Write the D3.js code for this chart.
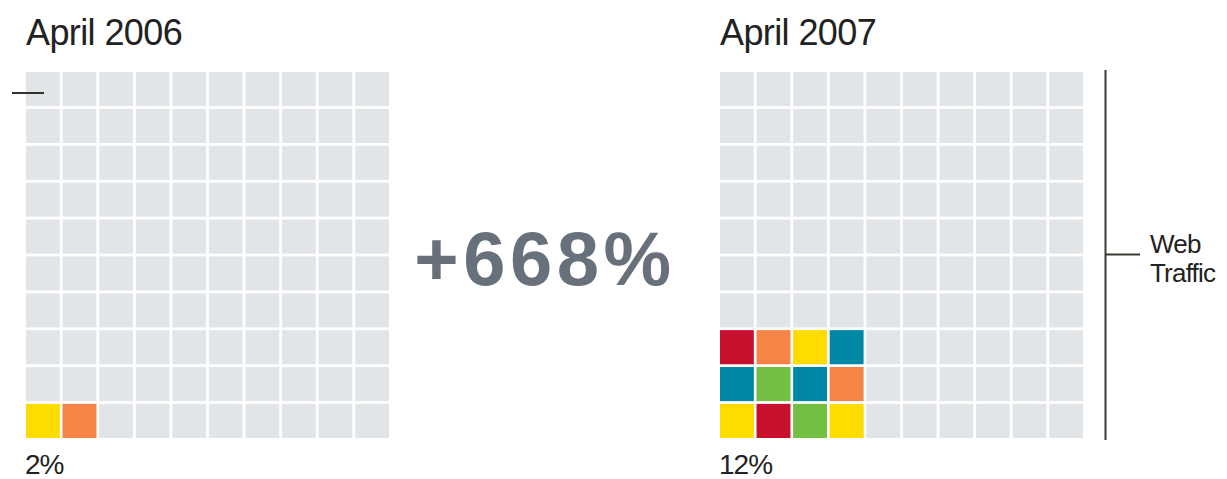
<!DOCTYPE html>
<html>
<head>
<meta charset="utf-8">
<script src="https://cdn.jsdelivr.net/npm/d3@7"></script>
<style>
  body { margin: 0; background: #fff; }
  text { font-family: "Liberation Sans", Arial, sans-serif; }
</style>
</head>
<body>
<div id="viz"></div>
<script>
// data
var years = ['April 2006', 'April 2007'];
var shares = [2, 12];            // percent of web traffic
var shareLabels = ['2%', '12%'];
var blockCols = [2, 4];          // width of the coloured block in each grid
var cellColors2006 = ['yellow', 'orange'];
var cellColors2007 = ['yellow', 'red', 'green', 'yellow',
                      'teal', 'green', 'teal', 'orange',
                      'red', 'orange', 'yellow', 'teal'];
var change = '+668%';
var bracketLabel = ['Web', 'Traffic'];

var width = 1227,
    height = 479,
    gridSize = 10;

var palette = {
    yellow: '#ffdc00',
    orange: '#f68446',
    red: '#c8102e',
    teal: '#0089a7',
    green: '#72bf44'
};

var svg = d3.select('#viz').append('svg')
    .attr('width', width)
    .attr('height', height);

var gridLeft = [26, 720],
    gridTop = 72,
    gridSpan = 363;

var idx = d3.range(gridSize);

function drawGrid(g, k, colors) {
    var x = d3.scaleBand().domain(idx).range([gridLeft[k], gridLeft[k] + gridSpan]).paddingInner(0.075);
    // rows counted from the bottom
    var y = d3.scaleBand().domain(idx).range([gridTop + gridSpan + 3, gridTop]).paddingInner(0.075);

    var cells = [];
    idx.forEach(function(r) {
        idx.forEach(function(c) { cells.push({ c: c, r: r }); });
    });

    g.selectAll('rect.bg').data(cells)
        .enter().append('rect')
        .attr('class', 'bg')
        .attr('x', function(d) { return x(d.c); })
        .attr('y', function(d) { return y(d.r); })
        .attr('width', x.bandwidth())
        .attr('height', y.bandwidth())
        .attr('fill', '#e2e5e8');

    var bc = blockCols[k];
    var filled = d3.range(shares[k]).map(function(i) {
        return { c: i % bc, r: Math.floor(i / bc), color: colors[i] };
    });

    g.selectAll('rect.on').data(filled)
        .enter().append('rect')
        .attr('class', 'on')
        .attr('x', function(d) { return x(d.c); })
        .attr('y', function(d) { return y(d.r); })
        .attr('width', x.bandwidth())
        .attr('height', y.bandwidth())
        .attr('fill', function(d) { return palette[d.color]; });

    g.append('text')
        .attr('x', gridLeft[k])
        .attr('y', 45)
        .attr('font-size', 36)
        .attr('letter-spacing', -0.6)
        .attr('fill', '#222')
        .text(years[k]);

    g.append('text')
        .attr('x', gridLeft[k] - 1)
        .attr('y', 474)
        .attr('font-size', 28)
        .attr('letter-spacing', -1)
        .attr('fill', '#222')
        .text(shareLabels[k]);
}

drawGrid(svg.append('g'), 0, cellColors2006);
drawGrid(svg.append('g'), 1, cellColors2007);

// small tick at top left
svg.append('line')
    .attr('x1', 12).attr('x2', 44)
    .attr('y1', 93).attr('y2', 93)
    .attr('stroke', '#33332b')
    .attr('stroke-width', 2);

// change label
svg.append('text')
    .attr('x', 545)
    .attr('y', 285)
    .attr('text-anchor', 'middle')
    .attr('font-size', 76)
    .attr('font-weight', 'bold')
    .attr('letter-spacing', 4.5)
    .attr('fill', '#68717b')
    .text(change);

// bracket
svg.append('line')
    .attr('x1', 1105.5).attr('x2', 1105.5)
    .attr('y1', 70).attr('y2', 440)
    .attr('stroke', '#3b3b32')
    .attr('stroke-width', 2);

svg.append('line')
    .attr('x1', 1106).attr('x2', 1140)
    .attr('y1', 254.5).attr('y2', 254.5)
    .attr('stroke', '#3b3b32')
    .attr('stroke-width', 2);

svg.append('text')
    .attr('x', 1150)
    .attr('y', 253)
    .attr('font-size', 26)
    .attr('letter-spacing', -0.8)
    .attr('fill', '#222')
    .selectAll('tspan').data(bracketLabel)
    .enter().append('tspan')
    .attr('x', 1150)
    .attr('dy', function(d, i) { return i ? 29 : 0; })
    .text(function(d) { return d; });
</script>
</body>
</html>
